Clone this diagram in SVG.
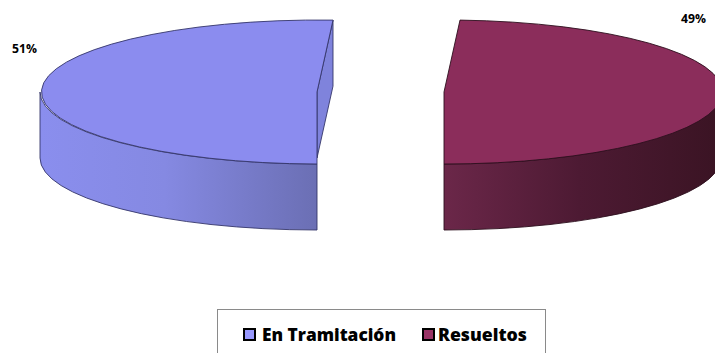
<svg xmlns="http://www.w3.org/2000/svg" width="715" height="353" viewBox="0 0 715 353">
<defs>
<linearGradient id="gL" gradientUnits="userSpaceOnUse" x1="40" y1="0" x2="317" y2="0">
<stop offset="0" stop-color="#8a8eee"/>
<stop offset="0.45" stop-color="#8589e2"/>
<stop offset="1" stop-color="#6b6fb4"/>
</linearGradient>
<linearGradient id="gR" gradientUnits="userSpaceOnUse" x1="444" y1="0" x2="715" y2="0">
<stop offset="0" stop-color="#6b2749"/>
<stop offset="0.5" stop-color="#4d1a33"/>
<stop offset="1" stop-color="#3b1424"/>
</linearGradient>
<style>
.sl{stroke:#34366a;stroke-width:0.9;stroke-linejoin:round}
.sr{stroke:#2c0f1d;stroke-width:0.9;stroke-linejoin:round}
.pct{font-family:"Open Sans","Liberation Sans",sans-serif;font-weight:bold;font-size:12.5px;fill:#000}
.leg{font-family:"Open Sans","Liberation Sans",sans-serif;font-weight:800;font-size:17.5px;fill:#000}
</style>
</defs>
<rect width="715" height="353" fill="#fff"/>
<g id="slice-en-tramitacion">
<path class="sl" fill="#7f83dc" d="M317,92 L333,20.1 L333,86.1 L317,158 Z"/>
<path class="sl" fill="url(#gL)" d="M40,92 A277,72 0 0,0 317,164 L317,230 A277,72 0 0,1 40,158 Z"/>
<path class="sl" fill="#8b8cef" d="M317,92 L333,20.1 A277,72 0 1,0 317,164 Z"/>
</g>
<g id="slice-resueltos">
<path class="sr" fill="url(#gR)" d="M444,164 A277,72 0 0,0 721,92 L721,158 A277,72 0 0,1 444,230 Z"/>
<path class="sr" fill="#8b2d5b" d="M444,92 L460,20.1 A277,72 0 0,1 444,164 Z"/>
</g>
<g id="labels">
<text class="pct" x="12" y="53" textLength="25" lengthAdjust="spacingAndGlyphs">51%</text>
<text class="pct" x="681" y="22.5" textLength="25" lengthAdjust="spacingAndGlyphs">49%</text>
</g>
<g id="legend">
<rect x="217.5" y="309.5" width="328" height="60" fill="#fff" stroke="#8a8a8a" stroke-width="1"/>
<rect x="244" y="329" width="11" height="11" fill="#9999ff" stroke="#000" stroke-width="2"/>
<text class="leg" x="262" y="341" textLength="134" lengthAdjust="spacingAndGlyphs">En Tramitación</text>
<rect x="423" y="329" width="11" height="11" fill="#993366" stroke="#000" stroke-width="2"/>
<text class="leg" x="438" y="341" textLength="89" lengthAdjust="spacingAndGlyphs">Resueltos</text>
</g>
</svg>
